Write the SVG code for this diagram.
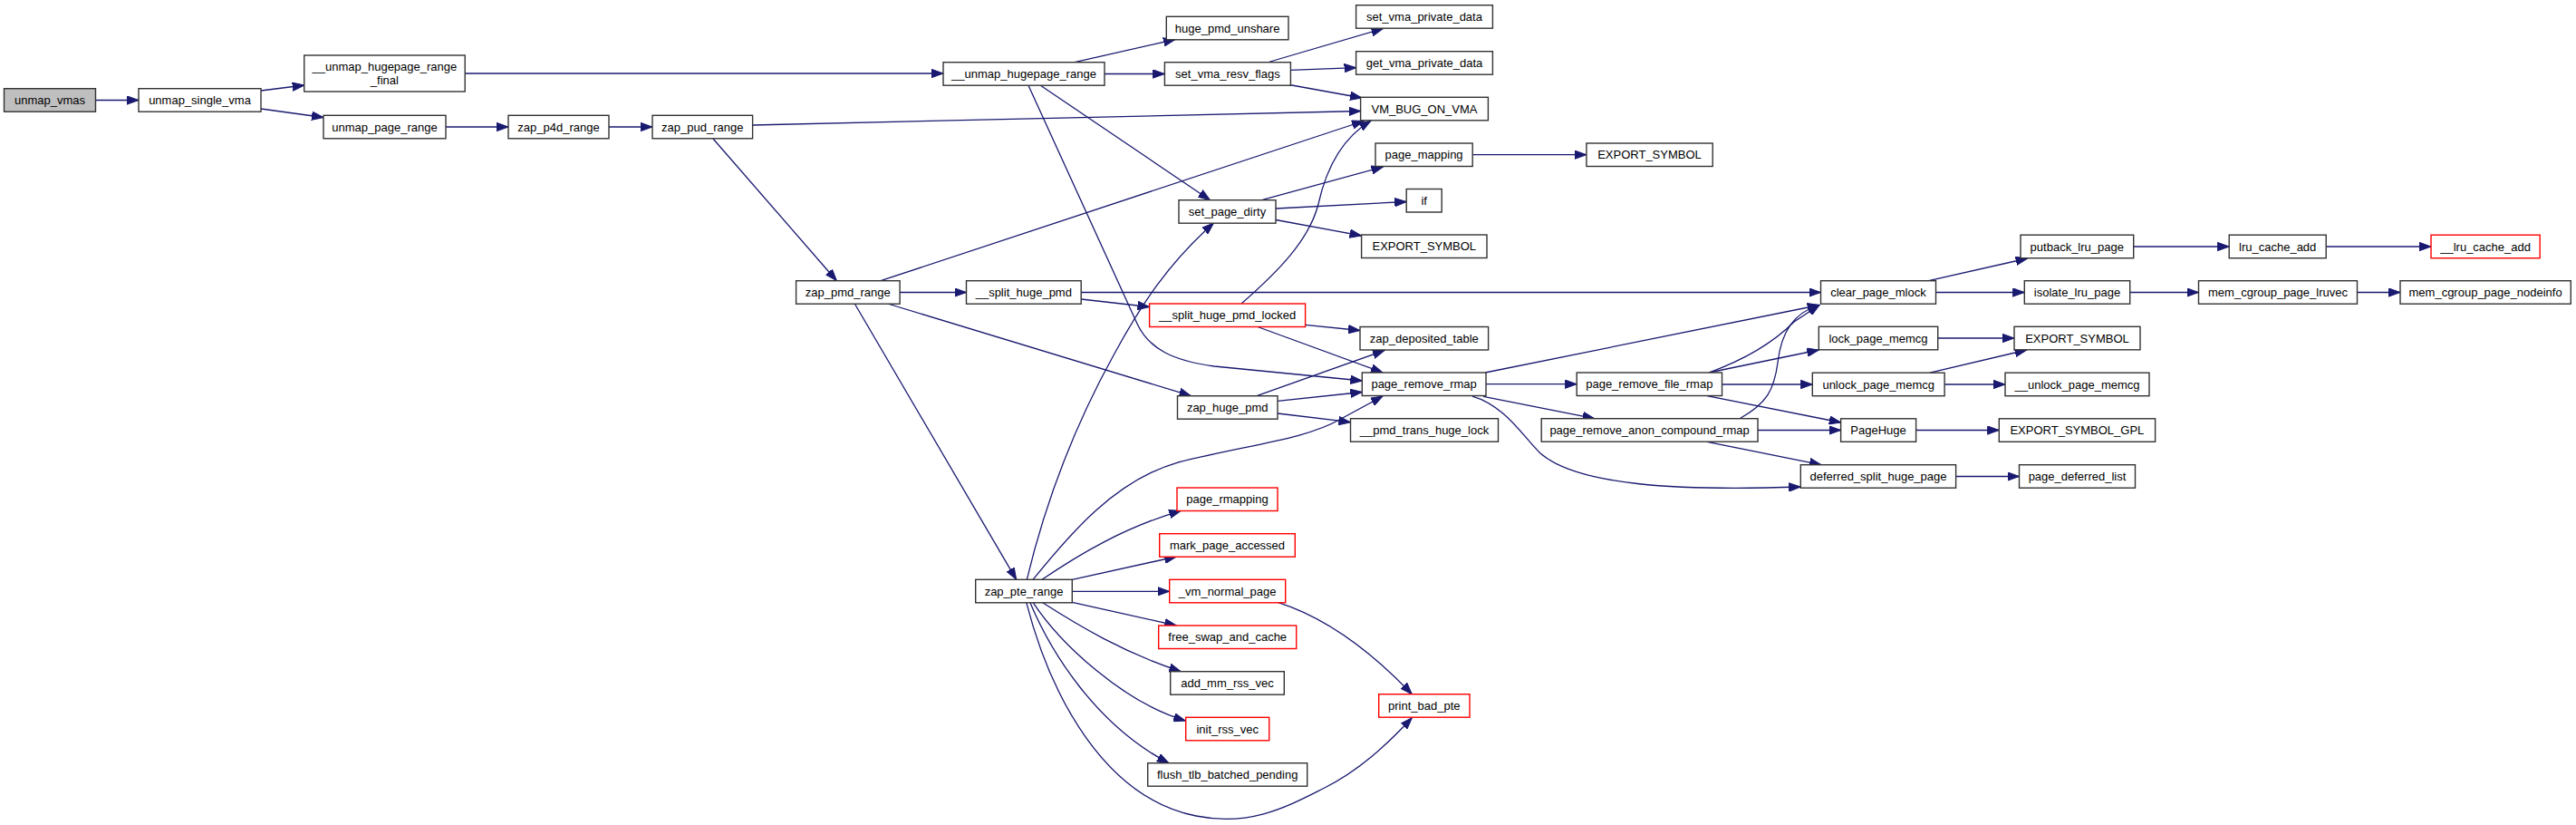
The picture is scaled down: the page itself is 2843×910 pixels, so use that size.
<svg xmlns="http://www.w3.org/2000/svg" width="2843" height="910" viewBox="0 0 2843 910">
<style>
.n rect{fill:#fff;stroke:#333;stroke-width:1.4}
.n.r rect{stroke:#ff0000}
.n.root rect{fill:#bfbfbf}
.n text{font-family:"Liberation Sans",Arial,sans-serif;font-size:13px;fill:#000;text-anchor:middle}
#edges path{fill:none;stroke:#191970;stroke-width:1.3;marker-end:url(#ah)}
</style>
<defs>
<marker id="ah" markerUnits="userSpaceOnUse" markerWidth="14" markerHeight="10" viewBox="0 0 14 10" refX="13" refY="5" orient="auto">
<path d="M0,0.3 L13,5 L0,9.7 z" fill="#191970" stroke="#191970" stroke-width="1"/>
</marker>
</defs>
<rect width="2843" height="910" fill="#fff"/>
<g id="edges">
<path d="M105.5,110.5 L153,110.5"/>
<path d="M288,100 L335.7,94"/>
<path d="M288,120 L357,129.5"/>
<path d="M513.2,81 L1041,81"/>
<path d="M492,140 L561,140"/>
<path d="M672,140 L720,140"/>
<path d="M830.6,138 L1501.6,122.5"/>
<path d="M787,153 L923.4,309.7"/>
<path d="M1186,68.7 L1297,43.5"/>
<path d="M1219,81.5 L1285.4,81.5"/>
<path d="M1148.4,94.2 L1335.5,220.7"/>
<path d="M1135,94.2 L1255,357 C1268,385 1295,398 1340,404 L1503.3,420"/>
<path d="M1400,68.5 L1526.5,31.5"/>
<path d="M1424.3,77.3 L1496.6,74.7"/>
<path d="M1423,93.5 L1503,108"/>
<path d="M972,309.7 L1505,133.5"/>
<path d="M1370,335 C1410,300 1445,265 1455,225 C1465,180 1485,150 1513,133.3"/>
<path d="M1625.2,170.7 L1750.9,170.7"/>
<path d="M1392.6,220.7 L1526.5,184"/>
<path d="M1408,230 L1552.3,222.5"/>
<path d="M1408,242.5 L1502.6,260"/>
<path d="M993,322.5 L1066.5,322.5"/>
<path d="M979.7,335 L1314.5,436.7"/>
<path d="M943.3,335 L1121.7,639.3"/>
<path d="M1193.2,322.5 L2009.5,322.5"/>
<path d="M1193.2,330 L1268.6,338.5"/>
<path d="M1440.6,358.3 L1501,364.5"/>
<path d="M1388,360.5 L1526,411"/>
<path d="M1387,436.7 L1528,386.5"/>
<path d="M1410,442.3 L1503.3,432.5"/>
<path d="M1410,456 L1490.5,465.7"/>
<path d="M1140,639.3 C1180,590 1230,530 1300,510 C1380,490 1440,485 1480,462 L1526,437"/>
<path d="M1133.3,639.3 C1150,570 1180,480 1230,390 C1260,335 1290,290 1339.5,246"/>
<path d="M1150,639.3 C1190,612 1240,582 1303.3,563.3"/>
<path d="M1183.3,639.3 L1298.3,614"/>
<path d="M1183.3,652.3 L1290.7,652.3"/>
<path d="M1183.3,664.3 L1298.3,690"/>
<path d="M1150,664.3 C1190,690 1240,720 1303.3,740.7"/>
<path d="M1140,664.3 C1170,710 1240,775 1308.3,795"/>
<path d="M1136.7,664.3 C1160,720 1210,800 1290,841.7"/>
<path d="M1132.7,664.3 C1160,770 1220,880 1320,900 C1380,912 1420,890 1460,870 C1500,850 1530,822 1558.3,791.7"/>
<path d="M1410,664.3 C1460,680 1510,715 1558.3,765.7"/>
<path d="M1639.2,411 L2008,336.5"/>
<path d="M1640,423.7 L1740.2,423.7"/>
<path d="M1637.2,437.3 L1759.7,461.7"/>
<path d="M1625,437 C1660,447 1680,480 1700,500 C1740,535 1850,542 1987.3,537"/>
<path d="M1886,411 C1930,395 1960,375 1980,355 L2008,336.5"/>
<path d="M1886,411 L2007.3,386"/>
<path d="M1900.5,424 L2000.3,424"/>
<path d="M1884,436.7 L2031.7,466"/>
<path d="M1940,474.5 L2031.7,474.5"/>
<path d="M1884,487.3 L2010,512.7"/>
<path d="M1920,461.7 C1950,445 1958,430 1962,400 C1966,365 1980,345 2008,336.5"/>
<path d="M2128.6,309.7 L2237.6,285"/>
<path d="M2136.7,322.5 L2234.3,322.5"/>
<path d="M2354.7,272 L2460.2,272"/>
<path d="M2567.3,272 L2683,272"/>
<path d="M2350.7,322.5 L2426.5,322.5"/>
<path d="M2601.4,322.5 L2649,322.5"/>
<path d="M2138.7,373 L2223,373"/>
<path d="M2130,411.2 L2236.7,386"/>
<path d="M2146,424 L2213,424"/>
<path d="M2114.7,474.5 L2206.3,474.5"/>
<path d="M2158.7,525.5 L2228.5,525.5"/>
</g>
<g id="n_unmap_vmas" class="n root"><rect x="4.5" y="97.7" width="101" height="25.5"/><text x="55" y="115">unmap_vmas</text></g>
<g id="n_unmap_single_vma" class="n"><rect x="153" y="97.7" width="135" height="25.5"/><text x="220.5" y="115">unmap_single_vma</text></g>
<g id="n_unmap_hugepage_range_final" class="n"><rect x="335.7" y="61" width="177.5" height="40"/><text x="424.4" y="78">__unmap_hugepage_range</text><text x="424.4" y="93">_final</text></g>
<g id="n_unmap_page_range" class="n"><rect x="357" y="127.3" width="135" height="25.5"/><text x="424.5" y="144.6">unmap_page_range</text></g>
<g id="n_zap_p4d_range" class="n"><rect x="561" y="127.3" width="111" height="25.5"/><text x="616.5" y="144.6">zap_p4d_range</text></g>
<g id="n_zap_pud_range" class="n"><rect x="720" y="127.3" width="110.6" height="25.5"/><text x="775.3" y="144.6">zap_pud_range</text></g>
<g id="n_unmap_hugepage_range" class="n"><rect x="1041" y="68.7" width="178" height="25.5"/><text x="1130" y="86">__unmap_hugepage_range</text></g>
<g id="n_huge_pmd_unshare" class="n"><rect x="1287.3" y="18.3" width="134.7" height="25.5"/><text x="1354.6" y="35.6">huge_pmd_unshare</text></g>
<g id="n_set_vma_resv_flags" class="n"><rect x="1285.4" y="68.7" width="139" height="25.5"/><text x="1354.9" y="86">set_vma_resv_flags</text></g>
<g id="n_set_vma_private_data" class="n"><rect x="1496.6" y="5.7" width="150.8" height="25.5"/><text x="1572" y="23">set_vma_private_data</text></g>
<g id="n_get_vma_private_data" class="n"><rect x="1496.6" y="56.7" width="150.8" height="25.5"/><text x="1572" y="74">get_vma_private_data</text></g>
<g id="n_VM_BUG_ON_VMA" class="n"><rect x="1501.6" y="107.3" width="140.8" height="25.5"/><text x="1572" y="124.6">VM_BUG_ON_VMA</text></g>
<g id="n_page_mapping" class="n"><rect x="1518" y="158" width="107.2" height="25.5"/><text x="1571.6" y="175.3">page_mapping</text></g>
<g id="n_EXPORT_SYMBOL_a" class="n"><rect x="1750.9" y="158" width="139.3" height="25.5"/><text x="1820.5" y="175.3">EXPORT_SYMBOL</text></g>
<g id="n_set_page_dirty" class="n"><rect x="1301" y="220.7" width="107" height="25.5"/><text x="1354.5" y="238">set_page_dirty</text></g>
<g id="n_if" class="n"><rect x="1552.2" y="208.5" width="39" height="25.5"/><text x="1571.7" y="225.8">if</text></g>
<g id="n_EXPORT_SYMBOL_b" class="n"><rect x="1502.6" y="259" width="138.4" height="25.5"/><text x="1571.8" y="276.3">EXPORT_SYMBOL</text></g>
<g id="n_zap_pmd_range" class="n"><rect x="878.6" y="309.7" width="114.5" height="25.5"/><text x="935.8" y="327">zap_pmd_range</text></g>
<g id="n_split_huge_pmd" class="n"><rect x="1066.5" y="309.7" width="126.7" height="25.5"/><text x="1129.8" y="327">__split_huge_pmd</text></g>
<g id="n_split_huge_pmd_locked" class="n r"><rect x="1268.6" y="335" width="172" height="25.5"/><text x="1354.6" y="352.3">__split_huge_pmd_locked</text></g>
<g id="n_zap_deposited_table" class="n"><rect x="1501" y="360.5" width="141.6" height="25.5"/><text x="1571.8" y="377.8">zap_deposited_table</text></g>
<g id="n_zap_huge_pmd" class="n"><rect x="1299.5" y="436.7" width="110.5" height="25.5"/><text x="1354.7" y="454">zap_huge_pmd</text></g>
<g id="n_page_remove_rmap" class="n"><rect x="1503.3" y="411" width="136.7" height="25.5"/><text x="1571.6" y="428.3">page_remove_rmap</text></g>
<g id="n_pmd_trans_huge_lock" class="n"><rect x="1490.5" y="461.7" width="163" height="25.5"/><text x="1572" y="479">__pmd_trans_huge_lock</text></g>
<g id="n_page_remove_file_rmap" class="n"><rect x="1740.2" y="411" width="160.3" height="25.5"/><text x="1820.3" y="428.3">page_remove_file_rmap</text></g>
<g id="n_page_remove_anon_compound_rmap" class="n"><rect x="1701.2" y="461.7" width="238.8" height="25.5"/><text x="1820.6" y="479">page_remove_anon_compound_rmap</text></g>
<g id="n_clear_page_mlock" class="n"><rect x="2009.5" y="309.7" width="127" height="25.5"/><text x="2073" y="327">clear_page_mlock</text></g>
<g id="n_putback_lru_page" class="n"><rect x="2230" y="259.2" width="124.7" height="25.5"/><text x="2292.3" y="276.5">putback_lru_page</text></g>
<g id="n_isolate_lru_page" class="n"><rect x="2234.3" y="309.7" width="116.4" height="25.5"/><text x="2292.5" y="327">isolate_lru_page</text></g>
<g id="n_lru_cache_add" class="n"><rect x="2460.2" y="259.2" width="107" height="25.5"/><text x="2513.7" y="276.5">lru_cache_add</text></g>
<g id="n___lru_cache_add" class="n r"><rect x="2683" y="259.2" width="120.2" height="25.5"/><text x="2743.1" y="276.5">__lru_cache_add</text></g>
<g id="n_mem_cgroup_page_lruvec" class="n"><rect x="2426.5" y="309.7" width="175" height="25.5"/><text x="2514" y="327">mem_cgroup_page_lruvec</text></g>
<g id="n_mem_cgroup_page_nodeinfo" class="n"><rect x="2649" y="309.7" width="188.3" height="25.5"/><text x="2743.1" y="327">mem_cgroup_page_nodeinfo</text></g>
<g id="n_lock_page_memcg" class="n"><rect x="2007.3" y="360.3" width="131.4" height="25.5"/><text x="2073" y="377.6">lock_page_memcg</text></g>
<g id="n_EXPORT_SYMBOL_c" class="n"><rect x="2223" y="360.3" width="139" height="25.5"/><text x="2292.5" y="377.6">EXPORT_SYMBOL</text></g>
<g id="n_unlock_page_memcg" class="n"><rect x="2000.3" y="411.2" width="145.8" height="25.5"/><text x="2073.2" y="428.5">unlock_page_memcg</text></g>
<g id="n___unlock_page_memcg" class="n"><rect x="2213" y="411.2" width="159" height="25.5"/><text x="2292.5" y="428.5">__unlock_page_memcg</text></g>
<g id="n_PageHuge" class="n"><rect x="2031.6" y="461.8" width="83" height="25.5"/><text x="2073.1" y="479.1">PageHuge</text></g>
<g id="n_EXPORT_SYMBOL_GPL" class="n"><rect x="2206.3" y="461.8" width="172.3" height="25.5"/><text x="2292.4" y="479.1">EXPORT_SYMBOL_GPL</text></g>
<g id="n_deferred_split_huge_page" class="n"><rect x="1987.3" y="512.7" width="171.3" height="25.5"/><text x="2073" y="530">deferred_split_huge_page</text></g>
<g id="n_page_deferred_list" class="n"><rect x="2228.5" y="512.7" width="128" height="25.5"/><text x="2292.5" y="530">page_deferred_list</text></g>
<g id="n_zap_pte_range" class="n"><rect x="1076.7" y="639.3" width="106.6" height="25.5"/><text x="1130" y="656.6">zap_pte_range</text></g>
<g id="n_page_rmapping" class="n r"><rect x="1299" y="538" width="111" height="25.5"/><text x="1354.5" y="555.3">page_rmapping</text></g>
<g id="n_mark_page_accessed" class="n r"><rect x="1279.7" y="588.7" width="149.6" height="25.5"/><text x="1354.5" y="606">mark_page_accessed</text></g>
<g id="n_vm_normal_page" class="n r"><rect x="1290.7" y="639.3" width="128" height="25.5"/><text x="1354.7" y="656.6">_vm_normal_page</text></g>
<g id="n_free_swap_and_cache" class="n r"><rect x="1278.7" y="690" width="152" height="25.5"/><text x="1354.7" y="707.3">free_swap_and_cache</text></g>
<g id="n_add_mm_rss_vec" class="n"><rect x="1291.7" y="740.7" width="125.6" height="25.5"/><text x="1354.5" y="758">add_mm_rss_vec</text></g>
<g id="n_init_rss_vec" class="n r"><rect x="1308.7" y="791.3" width="92" height="25.5"/><text x="1354.7" y="808.6">init_rss_vec</text></g>
<g id="n_flush_tlb_batched_pending" class="n"><rect x="1266.7" y="841.7" width="176" height="25.5"/><text x="1354.7" y="859">flush_tlb_batched_pending</text></g>
<g id="n_print_bad_pte" class="n r"><rect x="1521.7" y="765.7" width="100.3" height="25.5"/><text x="1571.8" y="783">print_bad_pte</text></g>
</svg>
